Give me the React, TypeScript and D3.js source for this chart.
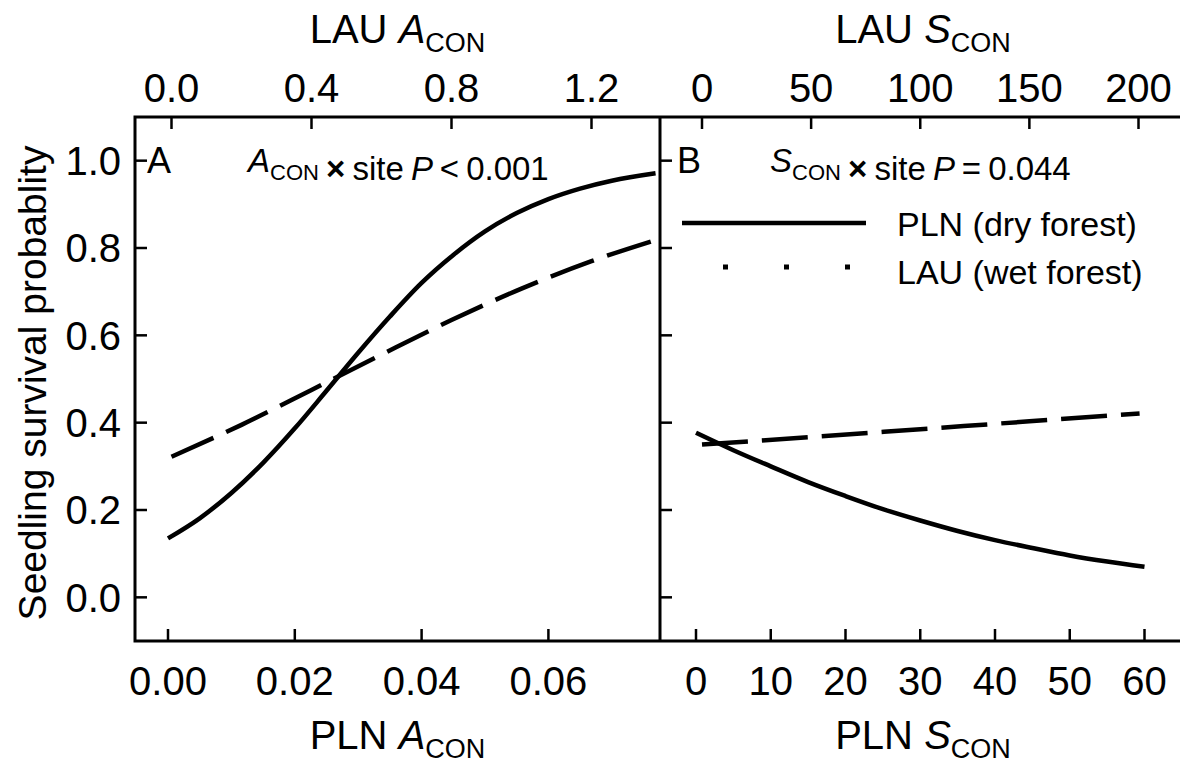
import React from "react";
import * as d3 from "d3";

// ---- data ----
const yTicks = [0, 0.2, 0.4, 0.6, 0.8, 1.0];
const aBottomTicks = [0, 0.02, 0.04, 0.06];
const aTopTicks = [0, 0.4, 0.8, 1.2];
const bBottomTicks = [0, 10, 20, 30, 40, 50, 60];
const bTopTicks = [0, 50, 100, 150, 200];

// Panel A: PLN (solid, bottom axis)
const plnAconX = [0, 0.005, 0.01, 0.015, 0.02, 0.025, 0.03, 0.035, 0.04, 0.045, 0.05, 0.055, 0.06, 0.065, 0.07, 0.0769];
const plnAconP = [0.135, 0.181, 0.239, 0.308, 0.387, 0.473, 0.56, 0.643, 0.72, 0.784, 0.838, 0.88, 0.912, 0.936, 0.954, 0.971];
// Panel A: LAU (dashed, top axis)
const lauAconX = [0, 0.2, 0.4, 0.6, 0.8, 1.0, 1.2, 1.39];
const lauAconP = [0.322, 0.395, 0.475, 0.556, 0.635, 0.707, 0.77, 0.82];
// Panel B: PLN (solid, bottom axis)
const plnSconX = [0, 5, 10, 15, 20, 25, 30, 35, 40, 45, 50, 55, 60];
const plnSconP = [0.377, 0.337, 0.3, 0.264, 0.232, 0.202, 0.176, 0.152, 0.131, 0.113, 0.096, 0.082, 0.07];
// Panel B: LAU (dashed, top axis)
const lauSconX = [0, 50, 100, 150, 200.5];
const lauSconP = [0.35, 0.367, 0.385, 0.403, 0.421];

const FONT = "'Liberation Sans', Arial, Helvetica, sans-serif";

export default function App() {
  const top = 117;
  const bottom = 641;
  const left = 135;
  const mid = 660;
  const right = 1186;

  const y = d3.scaleLinear().domain([-0.1, 1.1]).range([bottom, top]);
  const xA = d3.scaleLinear().domain([0, 0.06]).range([168, 548.4]);
  const xAtop = d3.scaleLinear().domain([0, 1.2]).range([171.5, 591.5]);
  const xB = d3.scaleLinear().domain([0, 60]).range([696, 1144.5]);
  const xBtop = d3.scaleLinear().domain([0, 200]).range([702, 1138.5]);

  const mk = (xs: number[], ps: number[], sx: d3.ScaleLinear<number, number>) =>
    d3
      .line<number>()
      .x((_, i) => sx(xs[i]))
      .y((p) => y(p))
      .curve(d3.curveMonotoneX)(ps) || "";

  const tickFs = 40;
  const titleFs = 40;
  const annFs = 33;
  const sw = 4.5;
  const tickLen = 12;

  const fmt1 = d3.format(".1f");
  const fmt2 = d3.format(".2f");

  const Sub = ({ main, sub, shift }: { main: string; sub: number; shift: number }) => (
    <>
      <tspan fontStyle="italic">{main}</tspan>
      <tspan fontSize={sub} dy={shift}>CON</tspan>
      <tspan dy={-shift}>{""}</tspan>
    </>
  );

  return (
    <svg
      width={1180}
      height={763}
      style={{ position: "absolute", left: 0, top: 0, background: "#fff" }}
      fontFamily={FONT}
    >
      <rect x={0} y={0} width={1180} height={763} fill="#fff" />

      {/* top axis titles */}
      <text x={(left + mid) / 2} y={43} fontSize={titleFs} textAnchor="middle">
        LAU <Sub main="A" sub={27} shift={9} />
      </text>
      <text x={(mid + right) / 2} y={43} fontSize={titleFs} textAnchor="middle">
        LAU <Sub main="S" sub={27} shift={9} />
      </text>

      {/* top ticks */}
      {aTopTicks.map((t) => (
        <g key={"at" + t}>
          <text x={xAtop(t)} y={102} fontSize={tickFs} textAnchor="middle">{fmt1(t)}</text>
          <line x1={xAtop(t)} x2={xAtop(t)} y1={top} y2={top + tickLen} stroke="#000" strokeWidth={2.5} />
        </g>
      ))}
      {bTopTicks.map((t) => (
        <g key={"bt" + t}>
          <text x={xBtop(t)} y={102} fontSize={tickFs} textAnchor="middle">{t}</text>
          <line x1={xBtop(t)} x2={xBtop(t)} y1={top} y2={top + tickLen} stroke="#000" strokeWidth={2.5} />
        </g>
      ))}

      {/* bottom ticks */}
      {aBottomTicks.map((t) => (
        <g key={"ab" + t}>
          <text x={xA(t)} y={695} fontSize={tickFs} textAnchor="middle">{fmt2(t)}</text>
          <line x1={xA(t)} x2={xA(t)} y1={bottom} y2={bottom - tickLen} stroke="#000" strokeWidth={2.5} />
        </g>
      ))}
      {bBottomTicks.map((t) => (
        <g key={"bb" + t}>
          <text x={xB(t)} y={695} fontSize={tickFs} textAnchor="middle">{t}</text>
          <line x1={xB(t)} x2={xB(t)} y1={bottom} y2={bottom - tickLen} stroke="#000" strokeWidth={2.5} />
        </g>
      ))}

      {/* bottom titles */}
      <text x={(left + mid) / 2} y={749} fontSize={titleFs} textAnchor="middle">
        PLN <Sub main="A" sub={27} shift={9} />
      </text>
      <text x={(mid + right) / 2} y={749} fontSize={titleFs} textAnchor="middle">
        PLN <Sub main="S" sub={27} shift={9} />
      </text>

      {/* y ticks */}
      {yTicks.map((t) => (
        <g key={"y" + t}>
          <text x={121} y={y(t)} dy="0.36em" fontSize={tickFs} textAnchor="end">{fmt1(t)}</text>
          <line x1={left} x2={left + tickLen} y1={y(t)} y2={y(t)} stroke="#000" strokeWidth={2.5} />
          <line x1={mid} x2={mid + tickLen} y1={y(t)} y2={y(t)} stroke="#000" strokeWidth={2.5} />
        </g>
      ))}
      <text
        transform={`translate(${32},${(top + bottom) / 2 + 4}) rotate(-90)`}
        fontSize={39}
        textAnchor="middle"
        dy="0.35em"
      >
        Seedling survival probablity
      </text>

      {/* frame */}
      <path
        d={`M${right},${top} H${left} V${bottom} H${right} M${mid},${top} V${bottom}`}
        fill="none"
        stroke="#000"
        strokeWidth={3}
      />

      {/* curves */}
      <path d={mk(plnAconX, plnAconP, xA)} fill="none" stroke="#000" strokeWidth={sw} />
      <path d={mk(lauAconX, lauAconP, xAtop)} fill="none" stroke="#000" strokeWidth={sw} strokeDasharray="46 14" />
      <path d={mk(plnSconX, plnSconP, xB)} fill="none" stroke="#000" strokeWidth={sw} />
      <path d={mk(lauSconX, lauSconP, xBtop)} fill="none" stroke="#000" strokeWidth={sw} strokeDasharray="46 14" />

      {/* panel labels and annotations */}
      <text x={147} y={173} fontSize={36}>A</text>
      <text x={248} y={172} fontSize={annFs} wordSpacing={-2}>
        <Sub main="A" sub={22} shift={8} /> <tspan fontWeight="bold">×</tspan> site <tspan fontStyle="italic">P</tspan>{"\u2009"}&lt; 0.001
      </text>
      <text x={677} y={173} fontSize={36}>B</text>
      <text x={770} y={172} fontSize={annFs} wordSpacing={-2}>
        <Sub main="S" sub={22} shift={8} /> <tspan fontWeight="bold">×</tspan> site <tspan fontStyle="italic">P</tspan>{"\u2009"}= 0.044
      </text>

      {/* legend */}
      <line x1={682} x2={866} y1={223} y2={223} stroke="#000" strokeWidth={sw} />
      <text x={897} y={236} fontSize={34}>PLN (dry forest)</text>
      <line x1={723} x2={852} y1={267} y2={267} stroke="#000" strokeWidth={5} strokeDasharray="5 56" />
      <text x={897} y={284} fontSize={34}>LAU (wet forest)</text>
    </svg>
  );
}
